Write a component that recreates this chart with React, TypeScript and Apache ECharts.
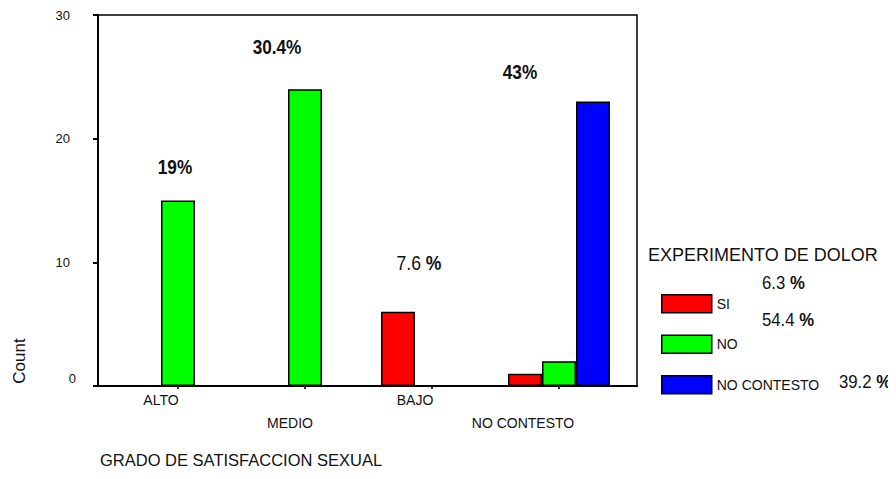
import React, { useEffect, useRef } from "react";
import * as echarts from "echarts";

const categories = ["ALTO", "MEDIO", "BAJO", "NO CONTESTO"];
const seriesNames = ["SI", "NO", "NO CONTESTO"];
const siValues = [0, 0, 6, 1];
const noValues = [15, 24, 0, 2];
const ncValues = [0, 0, 0, 23];
const seriesColors = ["#FF0000", "#00FF00", "#0000FF"];
const groupPercents = [
  { num: "19", pct: "%", bold: true },
  { num: "30.4", pct: "%", bold: true },
  { num: "7.6 ", pct: "%", bold: false },
  { num: "43", pct: "%", bold: true },
];
const legendPercents = ["6.3 ", "54.4 ", "39.2 "];
const legendTitle = "EXPERIMENTO DE DOLOR";
const xTitle = "GRADO DE SATISFACCION SEXUAL";
const yTitle = "Count";

const SANS = "'Liberation Sans', Arial, Helvetica, sans-serif";

export default function App() {
  const ref = useRef<HTMLDivElement>(null);
  useEffect(() => {
    if (!ref.current) return;
    const chart = echarts.init(ref.current, undefined, { renderer: "svg" });
    const values = [siValues, noValues, ncValues];
    const labelPads = [
      [0, 34, 0, 0],
      [23, 30, 0, 0],
      [0, 34, 0, 0],
      [23, 72, 0, 0],
    ];
    const rich: any = {};
    labelPads.forEach((p, i) => {
      rich["c" + i] = { padding: p, fontSize: 14, fontFamily: SANS, color: "#111" };
    });
    const groupPos = [
      [175, 167],
      [277, 47],
      [419, 263],
      [520, 72],
    ];
    const groupScale = [0.86, 0.86, 0.88, 0.86];
    const legendPctPos = [
      [762, 283],
      [762, 320],
      [839, 382],
    ];
    const graphics: any[] = [];
    groupPercents.forEach((g, i) => {
      const k = g.bold ? "b" : "n";
      graphics.push({
        type: "text",
        x: groupPos[i][0],
        y: groupPos[i][1],
        scaleX: groupScale[i],
        style: {
          text: `{${k}|${g.num}}{b|${g.pct}}`,
          rich: {
            b: { fontFamily: SANS, fontSize: 20, fontWeight: "bold", fill: "#111" },
            n: { fontFamily: SANS, fontSize: 20, fontWeight: "normal", fill: "#111" },
          },
          align: "center",
          verticalAlign: "middle",
          fill: "#111",
        },
      });
    });
    legendPercents.forEach((t, i) => {
      graphics.push({
        type: "text",
        x: legendPctPos[i][0],
        y: legendPctPos[i][1],
        scaleX: 0.88,
        style: {
          text: `{n|${t}}{b|%}`,
          rich: {
            b: { fontFamily: SANS, fontSize: 19, fontWeight: "bold", fill: "#111" },
            n: { fontFamily: SANS, fontSize: 19, fill: "#111" },
          },
          align: "left",
          verticalAlign: "middle",
          fill: "#111",
        },
      });
    });
    graphics.push({
      type: "text",
      x: 648,
      y: 255,
      style: { text: legendTitle, fontFamily: SANS, fontSize: 18, fill: "#111", align: "left", verticalAlign: "middle" },
    });
    graphics.push({
      type: "text",
      x: 100,
      y: 460,
      style: { text: xTitle, fontFamily: SANS, fontSize: 16.5, fill: "#111", align: "left", verticalAlign: "middle" },
    });
    graphics.push({
      type: "text",
      x: 19,
      y: 361,
      rotation: Math.PI / 2,
      style: { text: yTitle, fontFamily: SANS, fontSize: 17, fill: "#111", align: "center", verticalAlign: "middle" },
    });

    chart.setOption({
      animation: false,
      backgroundColor: "#ffffff",
      grid: [
        { left: 98, top: 15, width: 539, height: 371, show: true, borderColor: "#000", borderWidth: 1.5, backgroundColor: "transparent" },
        { left: 114.5, top: 15, width: 508, height: 371 },
      ],
      xAxis: [
        {
          gridIndex: 0,
          type: "value",
          min: 0,
          max: 1,
          axisLine: { show: true, lineStyle: { color: "#000", width: 2 } },
          axisTick: { show: false },
          axisLabel: { show: false },
          splitLine: { show: false },
        },
        {
          gridIndex: 1,
          type: "category",
          data: categories,
          axisLine: { show: false },
          axisTick: { show: true, alignWithLabel: true, length: 3, lineStyle: { color: "#333", width: 2 } },
          axisLabel: {
            interval: 0,
            margin: 7,
            formatter: (v: string, i: number) => `{c${i}|${v}}`,
            rich,
          },
          splitLine: { show: false },
        },
      ],
      yAxis: [
        {
          gridIndex: 0,
          type: "value",
          min: 0,
          max: 30,
          interval: 10,
          axisLine: { show: true, lineStyle: { color: "#000", width: 2 } },
          axisTick: { show: true, length: 5, lineStyle: { color: "#000", width: 2 } },
          axisLabel: {
            margin: 22,
            formatter: (v: number) => (v === 0 ? `{z|${v}}` : `{n|${v}}`),
            rich: {
              n: { fontSize: 13, fontFamily: SANS, color: "#111", padding: [0, 6, 0, 0] },
              z: { fontSize: 13, fontFamily: SANS, color: "#111", padding: [0, 0, 16, 0] },
            },
          },
          splitLine: { show: false },
        },
        { gridIndex: 1, type: "value", min: 0, max: 30, interval: 10, show: false, splitLine: { show: false } },
      ],
      legend: {
        orient: "vertical",
        left: 656,
        top: 289,
        itemWidth: 50,
        itemHeight: 18,
        itemGap: 21,
        icon: "rect",
        itemStyle: { borderColor: "#000", borderWidth: 1.5 },
        textStyle: { fontSize: 14, fontFamily: SANS, color: "#111", padding: [4, 0, 0, 0] },
        data: seriesNames,
        selectedMode: false,
      },
      series: seriesNames.map((name, i) => ({
        name,
        type: "bar",
        xAxisIndex: 1,
        yAxisIndex: 1,
        barWidth: 34,
        barGap: "0%",
        data: values[i],
        itemStyle: { color: seriesColors[i], borderColor: "#000", borderWidth: 1.5 },
      })),
      graphic: graphics,
    });
    return () => chart.dispose();
  }, []);
  return <div ref={ref} style={{ width: 896, height: 479, marginLeft: -8, marginTop: -8 }} />;
}
